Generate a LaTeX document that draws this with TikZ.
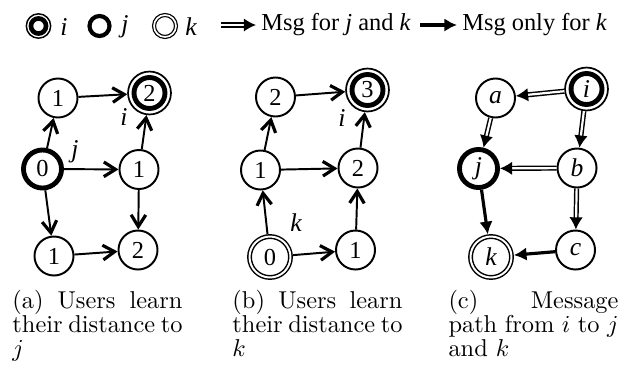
\documentclass[tikz,border=0pt]{standalone}
\usepackage{fontspec}
\newfontfamily\timesfont{Liberation Serif}
\usetikzlibrary{arrows.meta}
\tolerance=10000
\hbadness=10000

\begin{document}
\begin{tikzpicture}[x=0.41pt, y=-0.41pt]
\tikzset{ >={Straight Barb[length=4.8pt,width=6pt,line width=1.3pt]}, inner sep=0pt,
  dist/.style={circle, draw, line width=0.8pt, minimum size=16pt, font=\timesfont\fontsize{10}{10}\selectfont},
  src/.style={dist, line width=2pt, minimum size=15.6pt},
  dstk/.style={dist, double, line width=0.6pt, double distance=0.8pt, minimum size=16.8pt, outer sep=1pt},
  dsti/.style={dist, line width=0.7pt, minimum size=17.6pt,
    path picture={\draw [line width=2pt] (path picture bounding box.center) circle (6.35pt);}},
  keyi/.style={circle, draw, line width=0.6pt, minimum size=10pt,
    path picture={\draw [line width=1.9pt] (path picture bounding box.center) circle (3.1pt);}},
  keyj/.style={circle, draw, line width=1.7pt, minimum size=8.2pt},
  keyk/.style={circle, draw, double, line width=0.5pt, double distance=0.7pt, minimum size=9pt},
  lbl/.style={font=\timesfont\itshape\fontsize{10.5}{10.5}\selectfont},
  key/.style={font=\timesfont\fontsize{10}{10}\selectfont, inner sep=2pt},
  both/.style={double, line width=0.6pt, double distance=0.9pt, -{Latex[length=5pt,width=5.5pt]}},
  only/.style={line width=1.3pt, -{Latex[length=5.2pt,width=5.5pt]}},
  capt/.style={text width=69.7pt, align=justify, font=\fontsize{10}{10}\selectfont, anchor=base west},
}

\useasboundingbox (0,0) rectangle (632,367);
%\draw [lightgray, dashed](0,0) grid (632,367);

% key
\node [keyi] (Ki) at (38.5,26) {};
\node [keyj] (Kj) at (99.5,26) {};
\node [keyk] (Kk) at (165,26) {};
\node [lbl] (KiT) at (64,27) {i};
\node [lbl] (KjT) at (125,27) {j};
\node [lbl] (KkT) at (191,27) {k};

\coordinate (KbS) at (221,25);
\coordinate (KoS) at (420,25);
\node [key, anchor=west] (KbT) at (256,25) {Msg for \textit{j} and \textit{k}};
\node [key, anchor=west] (KoT) at (457,25) {Msg only for \textit{k}};
\draw [both, line width=0.7pt, double distance=1pt] (KbS) -- (KbT);
\draw [only, line width=1.6pt] (KoS) -- (KoT);

% (a) distance to j
\node [dist] (A1) at (58,98)      {1};
\node [dsti] (A2) at (149.5,93)   {2};
\node [src]  (A0) at (42.5,169)   {0};
\node [dist] (A3) at (139,169.5)  {1};
\node [dist] (A4) at (54,256)     {1};
\node [dist] (A5) at (138,250)    {2};

\draw [->, line width=0.8pt] (A0) -- (A1);
\draw [->, line width=0.8pt] (A1) -- (A2);
\draw [->, line width=0.8pt] (A0) -- (A3);
\draw [->, line width=0.8pt] (A3) -- (A2);
\draw [->, line width=0.8pt] (A0) -- (A4);
\draw [->, line width=0.8pt] (A3) -- (A5);
\draw [->, line width=0.8pt] (A4) -- (A5);

\node [lbl] (Aj) at (75,152)  {j};
\node [lbl] (Ai) at (124,117) {i};

% (b) distance to k
\node [dist] (B1) at (275.5,97)   {2};
\node [dsti] (B2) at (367.5,90)   {3};
\node [dist] (B3) at (260.5,170)  {1};
\node [dist] (B4) at (358,168)    {2};
\node [dstk] (B5) at (270,257)    {0};
\node [dist] (B6) at (355.5,250)  {1};

\draw [->, line width=0.8pt] (B5) -- (B3);
\draw [->, line width=0.8pt] (B3) -- (B1);
\draw [->, line width=0.8pt] (B1) -- (B2);
\draw [->, line width=0.8pt] (B3) -- (B4);
\draw [->, line width=0.8pt] (B4) -- (B2);
\draw [->, line width=0.8pt] (B5) -- (B6);
\draw [->, line width=0.8pt] (B6) -- (B4);

\node [lbl] (Bk) at (296,223) {k};
\node [lbl] (Bi) at (342,118) {i};

% (c) message path
\node [dist, font=\timesfont\itshape\fontsize{10.5}{10.5}\selectfont] (Ca) at (495.5,98)  {a};
\node [dsti, font=\timesfont\itshape\fontsize{10.5}{10.5}\selectfont] (Ci) at (586.5,89)  {i};
\node [src,  font=\timesfont\itshape\fontsize{10.5}{10.5}\selectfont] (Cj) at (478.5,168.5) {j};
\node [dist, font=\timesfont\itshape\fontsize{10.5}{10.5}\selectfont] (Cb) at (577,168)  {b};
\node [dstk, font=\timesfont\itshape\fontsize{10.5}{10.5}\selectfont] (Ck) at (491,257)  {k};
\node [dist, font=\timesfont\itshape\fontsize{10.5}{10.5}\selectfont] (Cc) at (575.5,250) {c};

\draw [both] (Ci) -- (Ca);
\draw [both] (Ca) -- (Cj);
\draw [both] (Ci) -- (Cb);
\draw [both] (Cb) -- (Cj);
\draw [both] (Cb) -- (Cc);
\draw [only] (Cj) -- (Ck);
\draw [only] (Cc) -- (Ck);

% captions
\node [capt] (capA) at (12,308)  {(a) Users learn\linebreak their distance to\linebreak $j$};
\node [capt] (capB) at (232,308) {(b) Users learn\linebreak their distance to\linebreak $k$};
\node [capt] (capC) at (448,308) {(c) Message\linebreak path from $i$ to $j$\linebreak and $k$};
\end{tikzpicture}
\end{document}
